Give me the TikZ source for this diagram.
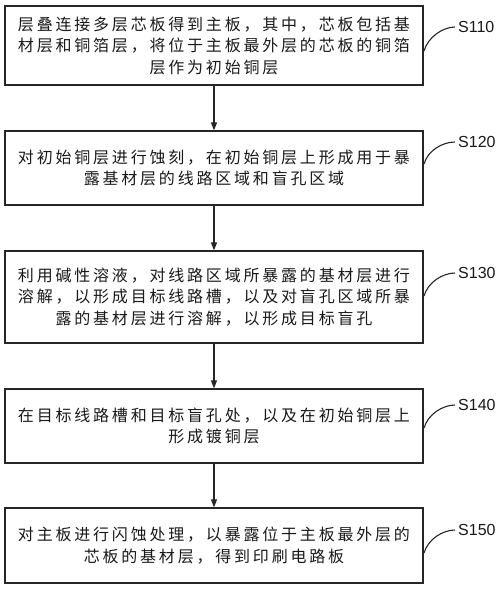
\documentclass[tikz,border=0pt]{standalone}
\usepackage{fontspec}
\usetikzlibrary{arrows.meta}
\newfontfamily\cjk[LetterSpace=17.5]{Noto Sans CJK SC}
\newfontfamily\lab{Liberation Sans}
\begin{document}
\begin{tikzpicture}[x=1bp,y=-1bp,
  stepbox/.style={draw=black!85,line width=1.3bp,minimum width=418bp,inner sep=0pt,
    align=center,font=\cjk\fontsize{16bp}{21.5bp}\selectfont,text=black!90},
  lbl/.style={anchor=west,font=\lab\fontsize{16bp}{18bp}\selectfont,text=black!90,inner sep=0pt},
  arr/.style={-{Triangle[length=8bp,width=6bp]},line width=1.2bp,draw=black!85},
  lnk/.style={line width=1.1bp,draw=black!85}]
\useasboundingbox (0,0) rectangle (500,589);
\node[stepbox,minimum height=79bp] (b1) at (214,45.5) {层叠连接多层芯板得到主板，其中，芯板包括基\\材层和铜箔层，将位于主板最外层的芯板的铜箔\\层作为初始铜层};
\node[stepbox,minimum height=74bp] (b2) at (214,168) {对初始铜层进行蚀刻，在初始铜层上形成用于暴\\露基材层的线路区域和盲孔区域};
\node[stepbox,minimum height=92bp] (b3) at (214,297) {利用碱性溶液，对线路区域所暴露的基材层进行\\溶解，以形成目标线路槽，以及对盲孔区域所暴\\露的基材层进行溶解，以形成目标盲孔};
\node[stepbox,minimum height=74bp] (b4) at (214,426) {在目标线路槽和目标盲孔处，以及在初始铜层上\\形成镀铜层};
\node[stepbox,minimum height=75bp] (b5) at (214,545.5) {对主板进行闪蚀处理，以暴露位于主板最外层的\\芯板的基材层，得到印刷电路板};
\draw[arr] (b1) -- (b2);
\draw[arr] (b2) -- (b3);
\draw[arr] (b3) -- (b4);
\draw[arr] (b4) -- (b5);
\node[lbl] (s1) at (458,27) {S110};
\node[lbl] (s2) at (458,142) {S120};
\node[lbl] (s3) at (458,273) {S130};
\node[lbl] (s4) at (458,405) {S140};
\node[lbl] (s5) at (458,530) {S150};
\coordinate (c1) at (424,51);
\coordinate (c2) at (424,164);
\coordinate (c3) at (424,296);
\coordinate (c4) at (424,428);
\coordinate (c5) at (424,553);
\foreach \i in {1,...,5}{
  \draw[lnk] (c\i) .. controls +(4,-14) and +(-12,0) .. ([xshift=-3bp]s\i.west);
}
\end{tikzpicture}
\end{document}
